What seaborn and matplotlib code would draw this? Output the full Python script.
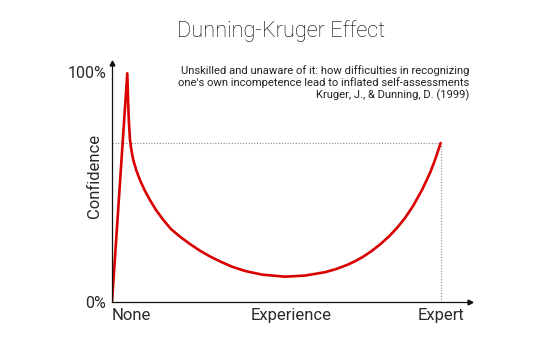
import matplotlib
matplotlib.use("Agg")
import matplotlib.pyplot as plt
import seaborn as sns
import pandas as pd

# Confidence (%) against experience (0 = none, 100 = end of axis)
experience = [0.0, 4.27, 4.55, 4.75, 5.03, 5.45, 5.95, 6.84, 7.82, 9.08,
              10.61, 12.29, 14.33, 16.48, 18.99, 21.79, 24.58, 27.37, 30.17,
              33.52, 37.15, 41.90, 48.32, 53.91, 59.50, 62.57, 65.64, 67.88,
              70.11, 72.35, 74.86, 77.37, 79.61, 81.84, 84.08, 86.59, 88.83,
              90.22, 91.80]
confidence = [0.0, 99.4, 84.8, 77.4, 70.4, 65.7, 61.7, 57.0, 53.0, 48.7,
              44.3, 40.0, 35.7, 31.7, 28.4, 25.2, 22.3, 19.8, 17.65,
              15.35, 13.5, 11.9, 11.0, 11.5, 12.96, 14.3, 16.1, 17.7,
              19.65, 21.96, 25.0, 28.5, 32.2, 36.5, 41.7, 48.7, 56.1,
              61.7, 69.1]
x_labels = ["None", "Experience", "Expert"]
y_labels = ["0%", "100%"]
y_label_values = [0, 100]

title = "Dunning-Kruger Effect"
citation = ("Unskilled and unaware of it: how difficulties in recognizing\n"
            "one's own incompetence lead to inflated self-assessments\n"
            "Kruger, J., & Dunning, D. (1999)")

sns.set_theme(style="white")
plt.rcParams["font.family"] = ["Roboto", "DejaVu Sans"]
plt.rcParams["font.weight"] = "normal"

df = pd.DataFrame({"experience": experience, "confidence": confidence})

fig = plt.figure(figsize=(5.5, 3.43), dpi=100)
ax = fig.add_axes([112 / 550, 41 / 343, 358 / 550, 239 / 343])

sns.lineplot(data=df, x="experience", y="confidence", ax=ax, color="#d90000",
             linewidth=1.9, sort=False, estimator=None)
ax.lines[0].set_solid_joinstyle("round")

ax.set_xlim(0, 100)
ax.set_ylim(0, 103.9)

# dotted guides to the expert's confidence
ex, ey = experience[-1], confidence[-1]
ax.plot([0, ex], [ey, ey], ls=(0, (1, 1.5)), color="#8a8a8a", lw=0.8, zorder=1)
ax.plot([ex, ex], [0, ey], ls=(0, (1, 1.5)), color="#8a8a8a", lw=0.8, zorder=1)

for side in ["top", "right"]:
    ax.spines[side].set_visible(False)
for side in ["left", "bottom"]:
    ax.spines[side].set_color("#111111")
    ax.spines[side].set_linewidth(0.9)

# arrowheads on the axes
ax.plot(1, 0, ">", color="#111111", ms=3.5, transform=ax.transAxes, clip_on=False)
ax.plot(0, 1, "^", color="#111111", ms=3.5, transform=ax.transAxes, clip_on=False)

ax.set_xticks([experience[0], 50, ex])
ax.set_xticklabels(x_labels, fontsize=12, color="#2a2a2a")
ax.set_yticks(y_label_values)
ax.set_yticklabels(y_labels, fontsize=11.5, color="#2a2a2a")
ax.tick_params(axis="both", length=0)
ax.tick_params(axis="x", pad=4)
ax.tick_params(axis="y", pad=4)
ax.get_xticklabels()[0].set_ha("left")
ax.get_xticklabels()[0].set_x(0.8)

ax.set_xlabel("")
ax.set_ylabel("Confidence", fontsize=12, color="#2a2a2a", labelpad=4)
ax.yaxis.set_label_coords(-0.028, 0.528)

fig.text(281 / 550, 1 - 37.3 / 343, title, ha="center", va="baseline",
         fontsize=15.7, color="#000000", fontweight="light")
fig.text(469 / 550, 1 - 98 / 343, citation, ha="right", va="baseline",
         fontsize=8.1, color="#222222", linespacing=1.12,
         multialignment="right")

fig.savefig("out.png", dpi=100)
